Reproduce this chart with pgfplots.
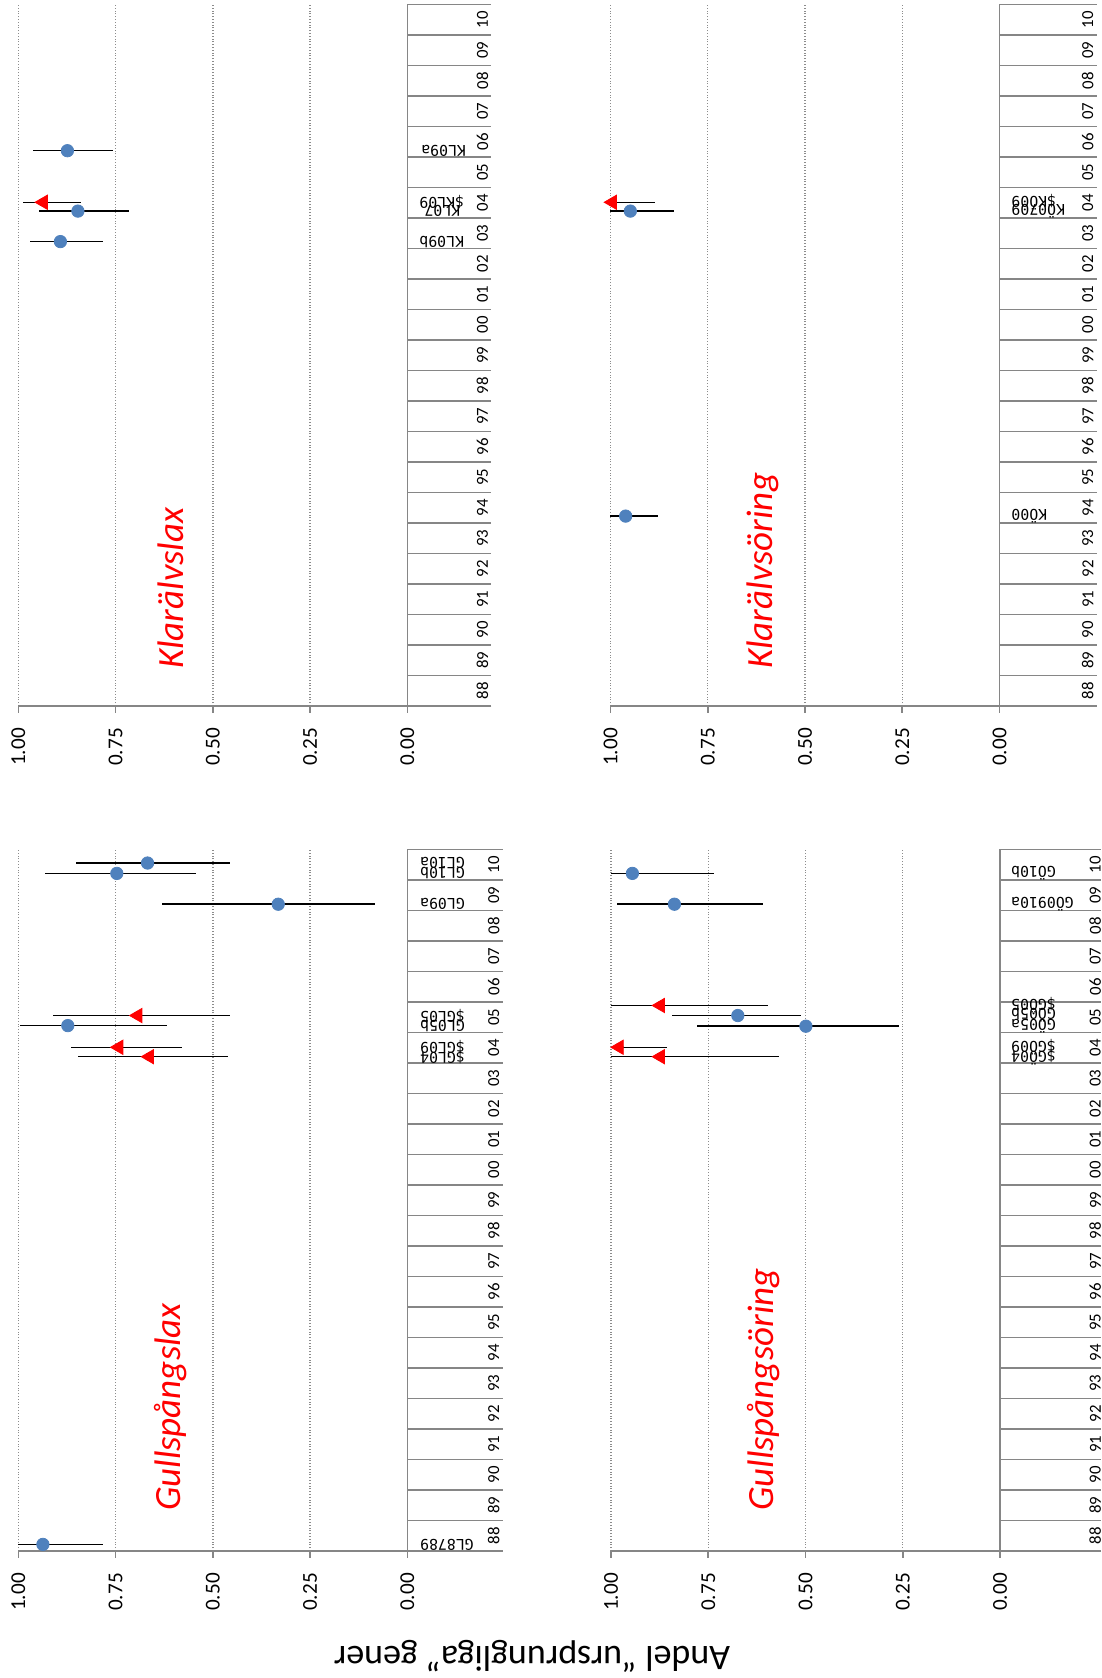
\documentclass[border=0pt]{standalone}
\usepackage{pgfplots}
\pgfplotsset{compat=1.18}
\usepackage{pgfplotstable}
\usepackage{fontspec}
\setmainfont{Carlito}
\newfontfamily\monofont{DejaVu Sans Mono}
\definecolor{ptblue}{HTML}{4F81BD}
\definecolor{axgray}{HTML}{868686}

\pgfplotstableread{
y lab
0 88
1 89
2 90
3 91
4 92
5 93
6 94
7 95
8 96
9 97
10 98
11 99
12 00
13 01
14 02
15 03
16 04
17 05
18 06
19 07
20 08
21 09
22 10
}\years

% Klarälvslax
\pgfplotstableread{
x y ep em
0.892 14.72 0.078 0.110
0.847 15.72 0.101 0.132
0.874 17.70 0.089 0.116
}\KLc
\pgfplotstableread{
x y ep em
0.936 16.01 0.052 0.098
}\KLt
\pgfplotstableread{
x y lab
-0.030 14.72 KL09b
-0.043 15.72 KL07
-0.030 16.01 \$KL09
-0.035 17.70 KL09a
}\KLl

% Klarälvsöring
\pgfplotstableread{
x y ep em
0.961 5.72 0.039 0.083
0.949 15.72 0.051 0.111
}\KOc
\pgfplotstableread{
x y ep em
0.995 16.01 0.005 0.109
}\KOt
\pgfplotstableread{
x y lab
-0.030 5.72 KÖ00
-0.030 15.72 KÖ0709
-0.030 16.01 \$KÖ09
}\KOl

% Gullspångslax
\pgfplotstableread{
x y ep em
0.937 -0.29 0.063 0.155
0.873 16.72 0.124 0.255
0.332 20.70 0.298 0.248
0.747 21.71 0.184 0.203
0.668 22.05 0.185 0.212
}\GLc
\pgfplotstableread{
x y ep em
0.663 15.70 0.185 0.203
0.742 16.01 0.122 0.163
0.693 17.05 0.219 0.237
}\GLt
\pgfplotstableread{
x y lab
-0.032 -0.29 GL8789
-0.032 15.70 \$GL04
-0.032 16.01 \$GL09
-0.032 16.72 GL05b
-0.032 17.05 \$GL05
-0.032 20.70 GL09a
-0.032 21.71 GL10b
-0.032 22.05 GL10a
}\GLl

% Gullspångsöring
\pgfplotstableread{
x y ep em
0.499 16.70 0.279 0.240
0.674 17.05 0.170 0.162
0.837 20.70 0.147 0.228
0.945 21.71 0.055 0.209
}\GOc
\pgfplotstableread{
x y ep em
0.873 15.70 0.127 0.304
0.979 16.01 0.021 0.122
0.873 17.38 0.127 0.277
}\GOt
\pgfplotstableread{
x y lab
-0.028 15.70 \$GÖ04
-0.028 16.01 \$GÖ09
-0.028 16.70 GÖ05a
-0.028 17.05 GÖ05b
-0.028 17.38 \$GÖ05
-0.028 20.70 GÖ0910a
-0.028 21.71 GÖ10b
}\GOl

\pgfplotsset{
  panel/.style={
    x=194.5pt, y=15.25pt, x dir=reverse, xmax=1, ymin=-0.5, ymax=22.5,
    enlargelimits=false, clip=false,
    axis x line*=bottom, axis y line=none, ytick=\empty,
    x axis line style={-, axgray, line width=0.8pt},
    xtick={0,0.25,0.5,0.75,1}, xticklabels={0.00,0.25,0.50,0.75,1.00},
    tick align=outside, major tick length=3.5pt,
    xtick style={axgray, line width=0.8pt},
    xmajorgrids, grid style={densely dotted, black!45, line width=0.7pt},
    xticklabel style={rotate=90, anchor=east, inner sep=0pt, text=black,
      font=\fontsize{10.6}{12}\selectfont},
    xticklabel shift=7.5pt,
    anchor=north west,
  },
}

\newcommand\catlines[1]{%
  \pgfplotsinvokeforeach{-0.5,0.5,...,22.5}{\draw[axgray, line width=0.8pt] (axis cs:0,##1) -- (axis cs:#1,##1);}%
  \draw[axgray, line width=0.8pt] (axis cs:0,-0.5) -- (axis cs:0,22.5);%
}
\newcommand\yearlabels[1]{%
  \addplot[only marks, mark=*, mark size=0pt, mark options={draw=none,fill=none},
    point meta=explicit symbolic, nodes near coords={\pgfplotspointmeta},
    nodes near coords align={center},
    every node near coord/.style={rotate=90, anchor=center, inner sep=0pt, text=black,
      font=\fontsize{8.4}{9}\selectfont}]
    table[x expr=#1, y=y, meta=lab] {\years};%
}
\newcommand\datalabels[1]{%
  \addplot[only marks, mark=*, mark size=0pt, mark options={draw=none,fill=none},
    point meta=explicit symbolic, nodes near coords={\pgfplotspointmeta},
    nodes near coords align={east},
    every node near coord/.style={rotate=180, anchor=east, inner sep=0pt, text=black,
      font=\monofont\fontsize{7.4}{8}\selectfont}]
    table[x=x, y=y, meta=lab] {#1};%
}
\newcommand\drawdata[2]{%
  \addplot[forget plot, only marks, mark=none,
    error bars/.cd, x dir=both, x explicit, error mark=none,
    error bar style={black, line width=0.75pt}]
    table[x=x, y=y, x error plus=ep, x error minus=em] {#1};
  \addplot[forget plot, only marks, mark=none,
    error bars/.cd, x dir=both, x explicit, error mark=none,
    error bar style={black, line width=0.75pt}]
    table[x=x, y=y, x error plus=ep, x error minus=em] {#2};
  \addplot[only marks, mark=*, mark size=3.1pt, color=ptblue,
    mark options={fill=ptblue, draw=ptblue}] table[x=x, y=y] {#1};
  \addplot[only marks, mark=triangle*, mark size=4.1pt, color=red,
    mark options={fill=red, draw=red, rotate=90}] table[x=x, y=y] {#2};
}
\newcommand\paneltitle[2]{%
  \node[rotate=90, anchor=west, text=red, inner sep=0pt,
    font=\itshape\fontsize{18.5}{20}\selectfont] at (axis cs:0.608,#1) {#2};%
}

\begin{document}
\begin{tikzpicture}
\useasboundingbox (0,0) rectangle (551pt,-839pt);

% Klarälvslax (top left)
\begin{axis}[panel, xmin=-0.216, at={(9.2pt,-2.15pt)}]
  \catlines{-0.216}
  \yearlabels{-0.193}
  \drawdata{\KLc}{\KLt}
  \datalabels{\KLl}
  \paneltitle{0.7}{Klarälvslax}
\end{axis}

% Klarälvsöring (top right)
\begin{axis}[panel, xmin=-0.25, at={(305.25pt,-2.15pt)}]
  \catlines{-0.25}
  \yearlabels{-0.227}
  \drawdata{\KOc}{\KOt}
  \datalabels{\KOl}
  \paneltitle{0.7}{Klarälvsöring}
\end{axis}

% Gullspångslax (bottom left)
\begin{axis}[panel, xmin=-0.245, at={(9.2pt,-424.65pt)}]
  \catlines{-0.245}
  \yearlabels{-0.222}
  \drawdata{\GLc}{\GLt}
  \datalabels{\GLl}
  \paneltitle{0.8}{Gullspångslax}
\end{axis}

% Gullspångsöring (bottom right)
\begin{axis}[panel, xmin=-0.26, at={(305.5pt,-424.65pt)}]
  \catlines{-0.26}
  \yearlabels{-0.245}
  \drawdata{\GOc}{\GOt}
  \datalabels{\GOl}
  \paneltitle{0.8}{Gullspångsöring}
\end{axis}

\node[rotate=180, inner sep=0pt, font=\fontsize{18}{20}\selectfont] at (266pt,-828pt) {Andel “ursprungliga” gener};
\end{tikzpicture}
\end{document}
